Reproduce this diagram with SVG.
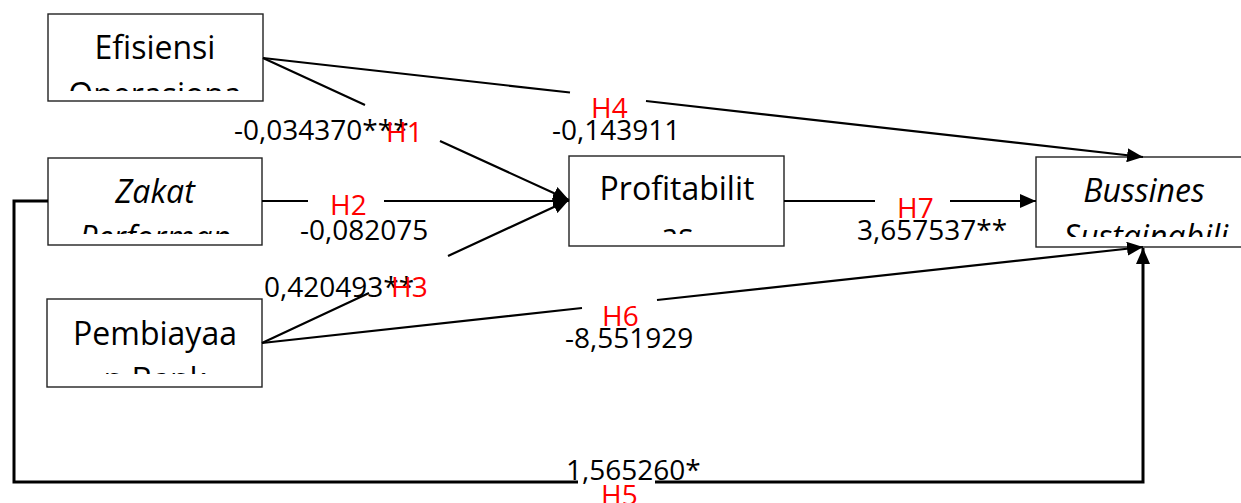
<svg xmlns="http://www.w3.org/2000/svg" width="1241" height="503" viewBox="0 0 1241 503">
<style>
.box{fill:#fff;stroke:#222;stroke-width:1.4}
.bt{font-family:"Open Sans","Noto Sans",sans-serif;font-size:32px;fill:#000;text-anchor:middle}
.it{font-style:italic}
.ln{fill:none;stroke:#000;stroke-width:2.2}
.lp{fill:none;stroke:#000;stroke-width:3}
.v{font-family:"Open Sans","Noto Sans",sans-serif;font-size:28px;fill:#000}
.h{font-family:"Open Sans","Noto Sans",sans-serif;font-size:28px;fill:#f00}
</style>
<defs>
<marker id="ah" markerUnits="userSpaceOnUse" markerWidth="17" markerHeight="14" refX="16" refY="7" orient="auto">
<path d="M0,0 L16,7 L0,14 z" fill="#000"/>
</marker>
<clipPath id="c1"><rect x="48" y="14" width="215" height="77"/></clipPath>
<clipPath id="c2"><rect x="48" y="158" width="214" height="76"/></clipPath>
<clipPath id="c3"><rect x="47" y="299" width="215" height="75"/></clipPath>
<clipPath id="c4"><rect x="569" y="156" width="215" height="78"/></clipPath>
<clipPath id="c5"><rect x="1036" y="157" width="215" height="80"/></clipPath>
</defs>
<rect width="1241" height="503" fill="#fff"/>
<g id="efisiensi">
<rect class="box" x="48" y="14" width="215" height="87"/>
<g clip-path="url(#c1)"><text class="bt" x="155" y="59">Efisiensi</text><text class="bt" x="155" y="106">Operasiona</text></g>
</g>
<g id="zakat">
<rect class="box" x="48" y="158" width="214" height="87"/>
<g clip-path="url(#c2)"><text class="bt it" x="155" y="203">Zakat</text><text class="bt it" x="155" y="249">Performan</text></g>
</g>
<g id="pembiayaan">
<rect class="box" x="47" y="299" width="215" height="88"/>
<g clip-path="url(#c3)"><text class="bt" x="155" y="345">Pembiayaa</text><text class="bt" x="155" y="391">n Bank</text></g>
</g>
<g id="profitabilitas">
<rect class="box" x="569" y="156" width="215" height="90"/>
<g clip-path="url(#c4)"><text class="bt" x="677" y="200">Profitabilit</text><text class="bt" x="677" y="247">as</text></g>
</g>
<g id="bussines">
<rect class="box" x="1036" y="157" width="215" height="90"/>
<g clip-path="url(#c5)"><text class="bt it" x="1144" y="202">Bussines</text><text class="bt it" x="1146" y="248">Sustainabili</text></g>
</g>
<g id="connectors">
<path class="ln" d="M263,58 L365,105 M440,141 L569,200" marker-end="url(#ah)"/>
<path class="ln" d="M262,201 L308,201 M384,201 L569,201" marker-end="url(#ah)"/>
<path class="ln" d="M262,343 L369,293 M448,256 L569,200" marker-end="url(#ah)"/>
<path class="ln" d="M263,58 L570,92.5 M646,101 L1143,157" marker-end="url(#ah)"/>
<path class="ln" d="M262,343 L582,308 M657,300 L1143,247" marker-end="url(#ah)"/>
<path class="ln" d="M784,201 L875,201 M950,201 L1036,201" marker-end="url(#ah)"/>
<path class="lp" d="M48,201 L14,201 L14,482 L578,482 M655,482 L1143,482 L1143,248" marker-end="url(#ah)"/>
</g>
<g id="labels">
<text class="v" x="234" y="140">-0,034370***</text>
<text class="h" x="386" y="142">H1</text>
<text class="h" x="330" y="215">H2</text>
<text class="v" x="300" y="240">-0,082075</text>
<text class="v" x="264" y="297">0,420493**</text>
<text class="h" x="391" y="297">H3</text>
<text class="h" x="591" y="118">H4</text>
<text class="v" x="552" y="140">-0,143911</text>
<text class="h" x="897" y="218">H7</text>
<text class="v" x="857" y="240">3,657537**</text>
<text class="h" x="602" y="326">H6</text>
<text class="v" x="565" y="348">-8,551929</text>
<text class="v" x="566" y="480">1,565260*</text>
<text class="h" x="601" y="505">H5</text>
</g>
</svg>
